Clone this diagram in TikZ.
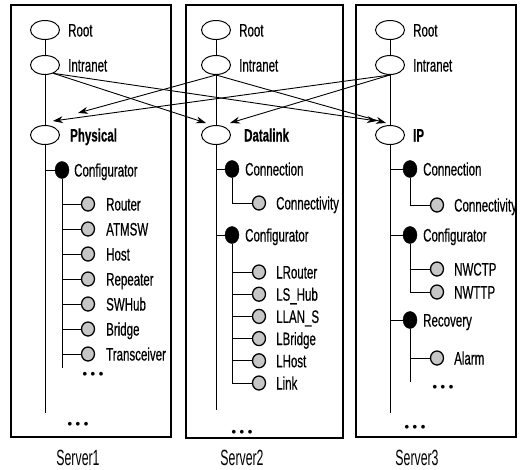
\documentclass[tikz,border=0pt]{standalone}
\usepackage{fontspec}
\setmainfont{Liberation Sans}[FakeStretch=0.64,FakeBold=0.4]
\newfontfamily\srvfont{Liberation Sans}[FakeStretch=0.56]
\newfontfamily\dotfont{Liberation Sans Bold}
\usetikzlibrary{arrows.meta,shapes.geometric}
\begin{document}
\begin{tikzpicture}[x=1pt,y=-1pt,
  boxline/.style={draw,line width=1.1pt},
  big/.style={draw,ellipse,minimum width=29pt,minimum height=19pt,inner sep=0pt,line width=1pt},
  blk/.style={draw,ellipse,fill=black,minimum width=14pt,minimum height=17pt,inner sep=0pt},
  gry/.style={draw,ellipse,fill=gray!45,line width=1.3pt,minimum width=13pt,minimum height=14pt,inner sep=0pt},
  lab/.style={anchor=base west,inner sep=0pt,font=\fontsize{18}{18}\selectfont},
  blab/.style={lab,font=\fontsize{18}{18}\selectfont\bfseries},
  dots/.style={inner sep=0pt,font=\dotfont\fontsize{13}{13}\selectfont},
  srv/.style={inner sep=0pt,font=\srvfont\fontsize{22}{22}\selectfont},
  tree/.style={line width=1pt},
  arr/.style={line width=0.9pt,-{Stealth[length=10pt,width=7pt]}}]
\useasboundingbox (0,0) rectangle (522,469);
\fill[white] (0,0) rectangle (522,469);
% boxes
\draw[boxline] (11,5) rectangle (171,437);
\draw[boxline] (186,5) rectangle (343,438);
\draw[boxline] (356,5) rectangle (516,437);
% ---------- Server 1 ----------
\node[big] (r1) at (45,30) {};
\node[big] (i1) at (45,65) {};
\node[big] (p1) at (45,135) {};
\node[lab] (r1t) at (68,36.5) {Root};
\node[lab] (i1t) at (68,71.5) {Intranet};
\node[blab] (p1t) at (70,141.5) {Physical};
\coordinate (e1) at (45,413);
\node[blk] (c1) at (62,170) {};
\node[lab] (c1t) at (74,176.5) {Configurator};
\coordinate (c1e) at (62,368);
\foreach \n/\t [count=\k from 0] in {a/Router,b/ATMSW,c/Host,d/Repeater,e/SWHub,f/Bridge,g/Transceiver}{
  \node[gry] (g1\n) at (88,{204+25*\k}) {};
  \node[lab] (g1\n t) at (106,{210.5+25*\k}) {\t};
  \draw[tree] (g1\n.west) -- (g1\n.west -| c1);
}
\node[dots] (d1a) at (93,375) {• • •};
\node[dots] (d1b) at (78,425) {• • •};
\draw[tree] (r1) -- (i1);
\draw[tree] (i1) -- (p1);
\draw[tree] (p1) -- (e1);
\draw[tree] (c1.west) -- (c1.west -| p1);
\draw[tree] (c1) -- (c1e);
% ---------- Server 2 ----------
\node[big] (r2) at (216,30) {};
\node[big] (i2) at (216,65) {};
\node[big] (p2) at (216,135) {};
\node[lab] (r2t) at (239,36.5) {Root};
\node[lab] (i2t) at (239,71.5) {Intranet};
\node[blab] (p2t) at (244,141.5) {Datalink};
\coordinate (e2) at (216,410);
\node[blk] (n2) at (232,169) {};
\node[lab] (n2t) at (245,175.5) {Connection};
\node[gry] (v2) at (259,203) {};
\node[lab] (v2t) at (276,209.5) {Connectivity};
\node[blk] (c2) at (232,235) {};
\node[lab] (c2t) at (245,241.5) {Configurator};
\foreach \n/\t [count=\k from 0] in {a/LRouter,b/LS\_Hub,c/LLAN\_S,d/LBridge,e/LHost,f/Link}{
  \node[gry] (g2\n) at (259,{272+22.2*\k}) {};
  \node[lab] (g2\n t) at (276,{278.5+22.2*\k}) {\t};
}
\foreach \n in {a,b,c,d,e}{\draw[tree] (g2\n.west) -- (g2\n.west -| c2);}
\node[dots] (d2) at (242,433) {• • •};
\draw[tree] (r2) -- (i2);
\draw[tree] (i2) -- (p2);
\draw[tree] (p2) -- (e2);
\draw[tree] (n2.west) -- (n2.west -| p2);
\draw[tree] (c2.west) -- (c2.west -| p2);
\draw[tree] (n2) |- (v2);
\draw[tree] (c2) |- (g2f);
% ---------- Server 3 ----------
\node[big] (r3) at (390,30) {};
\node[big] (i3) at (390,65) {};
\node[big] (p3) at (390,135) {};
\node[lab] (r3t) at (413,36.5) {Root};
\node[lab] (i3t) at (413,71.5) {Intranet};
\node[blab] (p3t) at (413,141.5) {IP};
\coordinate (e3) at (390,413);
\node[blk] (n3) at (410,169) {};
\node[lab] (n3t) at (423,175.5) {Connection};
\node[gry] (v3) at (437,205) {};
\node[lab] (v3t) at (454,211.5) {Connectivity};
\node[blk] (c3) at (410,235) {};
\node[lab] (c3t) at (423,241.5) {Configurator};
\node[gry] (w3a) at (437,269) {};
\node[lab] (w3at) at (454,275.5) {NWCTP};
\node[gry] (w3b) at (437,292) {};
\node[lab] (w3bt) at (454,298.5) {NWTTP};
\node[blk] (y3) at (410,320) {};
\node[lab] (y3t) at (423,326.5) {Recovery};
\node[gry] (a3) at (437,358) {};
\node[lab] (a3t) at (454,364.5) {Alarm};
\coordinate (y3e) at (410,382);
\node[dots] (d3a) at (443,388) {• • •};
\node[dots] (d3b) at (415,428) {• • •};
\draw[tree] (r3) -- (i3);
\draw[tree] (i3) -- (p3);
\draw[tree] (p3) -- (e3);
\draw[tree] (n3.west) -- (n3.west -| p3);
\draw[tree] (c3.west) -- (c3.west -| p3);
\draw[tree] (y3.west) -- (y3.west -| p3);
\draw[tree] (n3) |- (v3);
\draw[tree] (w3a.west) -- (w3a.west -| c3);
\draw[tree] (c3) |- (w3b);
\draw[tree] (a3.west) -- (a3.west -| y3);
\draw[tree] (y3) -- (y3e);
% ---------- cross arrows ----------
\coordinate (tp2) at (78,113);
\coordinate (tp3) at (53,121);
\coordinate (td1) at (206,123);
\coordinate (td3) at (230,123);
\coordinate (ti1) at (377,121);
\coordinate (ti2) at (386,123);
\draw[arr] (i1.-45) -- (td1);
\draw[arr] (i1.-45) -- (ti1);
\draw[arr] (i2.south) -- (tp2);
\draw[arr] (i2.south) -- (ti2);
\draw[arr] (i3.south) -- (tp3);
\draw[arr] (i3.south) -- (td3);
% ---------- server labels ----------
\node[srv] (s1) at (78,458) {Server1};
\node[srv] (s2) at (242,458) {Server2};
\node[srv] (s3) at (417,458) {Server3};
\end{tikzpicture}
\end{document}
